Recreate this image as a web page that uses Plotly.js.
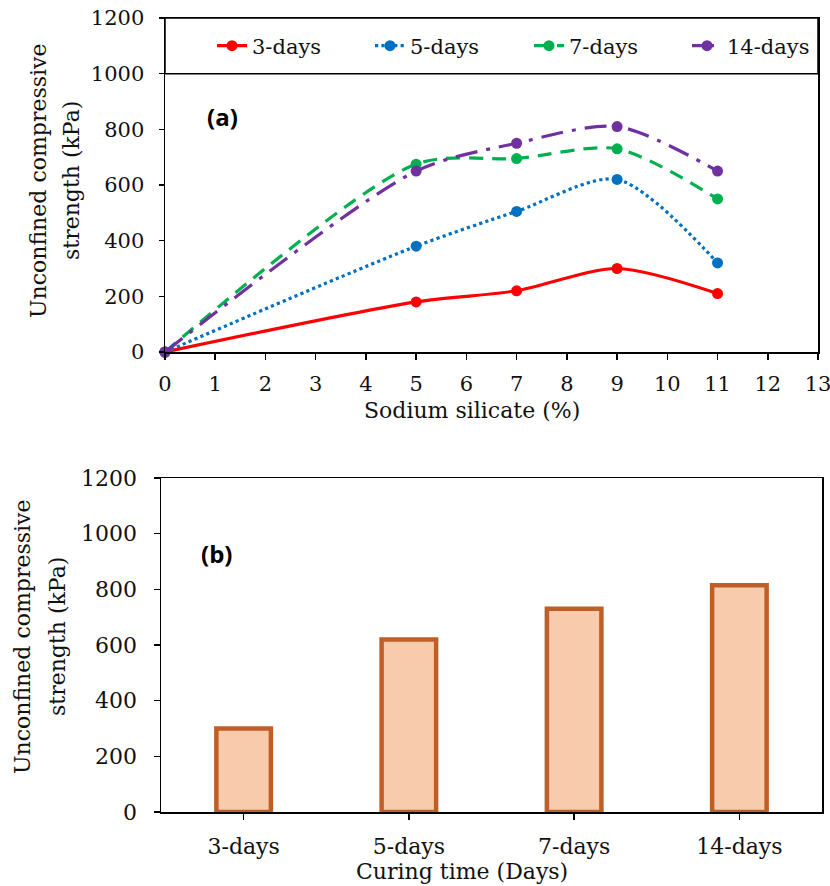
<!DOCTYPE html>
<html><head><meta charset="utf-8">
<script src="https://cdn.plot.ly/plotly-3.0.1.min.js"></script>
<style>html,body{margin:0;padding:0;background:#fff}</style>
</head><body>
<div id="chart" style="width:830px;height:886px"></div>
<script>
// ---- data ----
const silicate = [0, 5, 7, 9, 11];
const ucs3 = [0, 180, 220, 300, 210];
const ucs5 = [0, 380, 505, 620, 320];
const ucs7 = [0, 675, 695, 730, 550];
const ucs14 = [0, 650, 750, 810, 650];
const seriesNames = ['3-days', '5-days', '7-days', '14-days'];
const curingDays = ['3-days', '5-days', '7-days', '14-days'];
const peakUcs = [300, 620, 730, 815];

const serif = 'DejaVu Serif, Liberation Serif, serif';
const txt = '#111';

// layout geometry helpers (pixel -> paper)
const M = {l: 161, r: 8, t: 18, b: 74};
const W = 830, H = 886;
const PW = W - M.l - M.r, PH = H - M.t - M.b;
const px = v => (v - M.l) / PW;
const py = v => (H - M.b - v) / PH;

const styles = [
  {color: '#FF0000', dash: 'solid'},
  {color: '#0070C0', dash: 'dot'},
  {color: '#00B050', dash: '14px,9px'},
  {color: '#7030A0', dash: '22px,9px,4px,9px'}
];
const ys = [ucs3, ucs5, ucs7, ucs14];
const legendIds = ['legend', 'legend2', 'legend3', 'legend4'];
const legendX = [212, 370, 529, 687];

const traces = ys.map((y, i) => ({
  type: 'scatter', mode: 'lines+markers',
  x: silicate, y: y, name: seriesNames[i],
  xaxis: 'x', yaxis: 'y', legend: legendIds[i],
  line: {color: styles[i].color, width: 3.2, dash: styles[i].dash, shape: 'spline', smoothing: 0.8},
  marker: {color: styles[i].color, size: 11, symbol: 'circle'},
  cliponaxis: false
}));

traces.push({
  type: 'bar', x: curingDays, y: peakUcs, xaxis: 'x2', yaxis: 'y2',
  showlegend: false, width: 0.33,
  marker: {color: '#F8CBAD', line: {color: '#BF5F27', width: 4.5}}
});

const axisCommon = {
  showline: true, linecolor: '#000', linewidth: 1.5, mirror: true,
  ticks: 'outside', ticklen: 6, tickcolor: '#000', tickwidth: 1.5,
  showgrid: false, zeroline: false, ticklabeloverflow: 'allow',
  tickfont: {family: serif, size: 21, color: txt}
};

const layout = {
  width: W, height: H,
  margin: M,
  paper_bgcolor: '#fff', plot_bgcolor: '#fff',
  font: {family: serif, color: txt},
  showlegend: true,
  xaxis: Object.assign({}, axisCommon, {
    domain: [px(165), px(818)], range: [0, 13], dtick: 1, tick0: 0, anchor: 'y',
    ticklabelstandoff: 6
  }),
  yaxis: Object.assign({}, axisCommon, {
    domain: [py(352), 1], range: [0, 1200], dtick: 200, tick0: 0, anchor: 'x',
    ticklen: 5, ticklabelstandoff: 10
  }),
  xaxis2: Object.assign({}, axisCommon, {
    domain: [0, 1], type: 'category', range: [-0.5, 3.5], anchor: 'y2',
    ticklabelstandoff: 8, tickfont: {family: serif, size: 22, color: txt}
  }),
  yaxis2: Object.assign({}, axisCommon, {
    domain: [0, py(478)], range: [0, 1200], dtick: 200, tick0: 0, anchor: 'x2',
    ticklabelstandoff: 12, tickfont: {family: serif, size: 22, color: txt}
  }),
  shapes: [
    {type: 'rect', xref: 'x domain', yref: 'y', x0: 0, x1: 1, y0: 1000, y1: 1200,
     line: {color: '#000', width: 1.5}, fillcolor: 'rgba(0,0,0,0)', layer: 'above'}
  ],
  annotations: [
    {text: '<b>(a)</b>', xref: 'x', yref: 'y', x: 1.15, y: 845, showarrow: false,
     font: {family: 'Liberation Sans Narrow, Open Sans, sans-serif', size: 24, color: '#000'}},
    {text: '<b>(b)</b>', xref: 'x2', yref: 'y2', x: -0.165, y: 930, showarrow: false,
     font: {family: 'Liberation Sans Narrow, Open Sans, sans-serif', size: 24, color: '#000'}},
    // axis titles
    {text: 'Unconfined compressive', xref: 'paper', yref: 'paper', x: px(38), y: py(181), textangle: -90,
     showarrow: false, xanchor: 'center', yanchor: 'middle', font: {family: serif, size: 22, color: txt}},
    {text: 'strength (kPa)', xref: 'paper', yref: 'paper', x: px(71), y: py(181), textangle: -90,
     showarrow: false, xanchor: 'center', yanchor: 'middle', font: {family: serif, size: 22, color: txt}},
    {text: 'Unconfined compressive', xref: 'paper', yref: 'paper', x: px(22), y: py(637), textangle: -90,
     showarrow: false, xanchor: 'center', yanchor: 'middle', font: {family: serif, size: 22, color: txt}},
    {text: 'strength (kPa)', xref: 'paper', yref: 'paper', x: px(57), y: py(637), textangle: -90,
     showarrow: false, xanchor: 'center', yanchor: 'middle', font: {family: serif, size: 22, color: txt}},
    {text: 'Sodium silicate (%)', xref: 'paper', yref: 'paper', x: px(472), y: py(410),
     showarrow: false, xanchor: 'center', yanchor: 'middle', font: {family: serif, size: 22, color: txt}},
    {text: 'Curing time (Days)', xref: 'paper', yref: 'paper', x: px(462), y: py(871),
     showarrow: false, xanchor: 'center', yanchor: 'middle', font: {family: serif, size: 22, color: txt}}
  ]
};

legendIds.forEach((id, i) => {
  layout[id] = {
    orientation: 'h', x: px(legendX[i]), xanchor: 'left', y: py(46), yanchor: 'middle',
    bgcolor: 'rgba(0,0,0,0)', borderwidth: 0,
    font: {family: serif, size: 21, color: txt}
  };
});

Plotly.newPlot('chart', traces, layout, {staticPlot: true, displayModeBar: false});
</script>
</body></html>
